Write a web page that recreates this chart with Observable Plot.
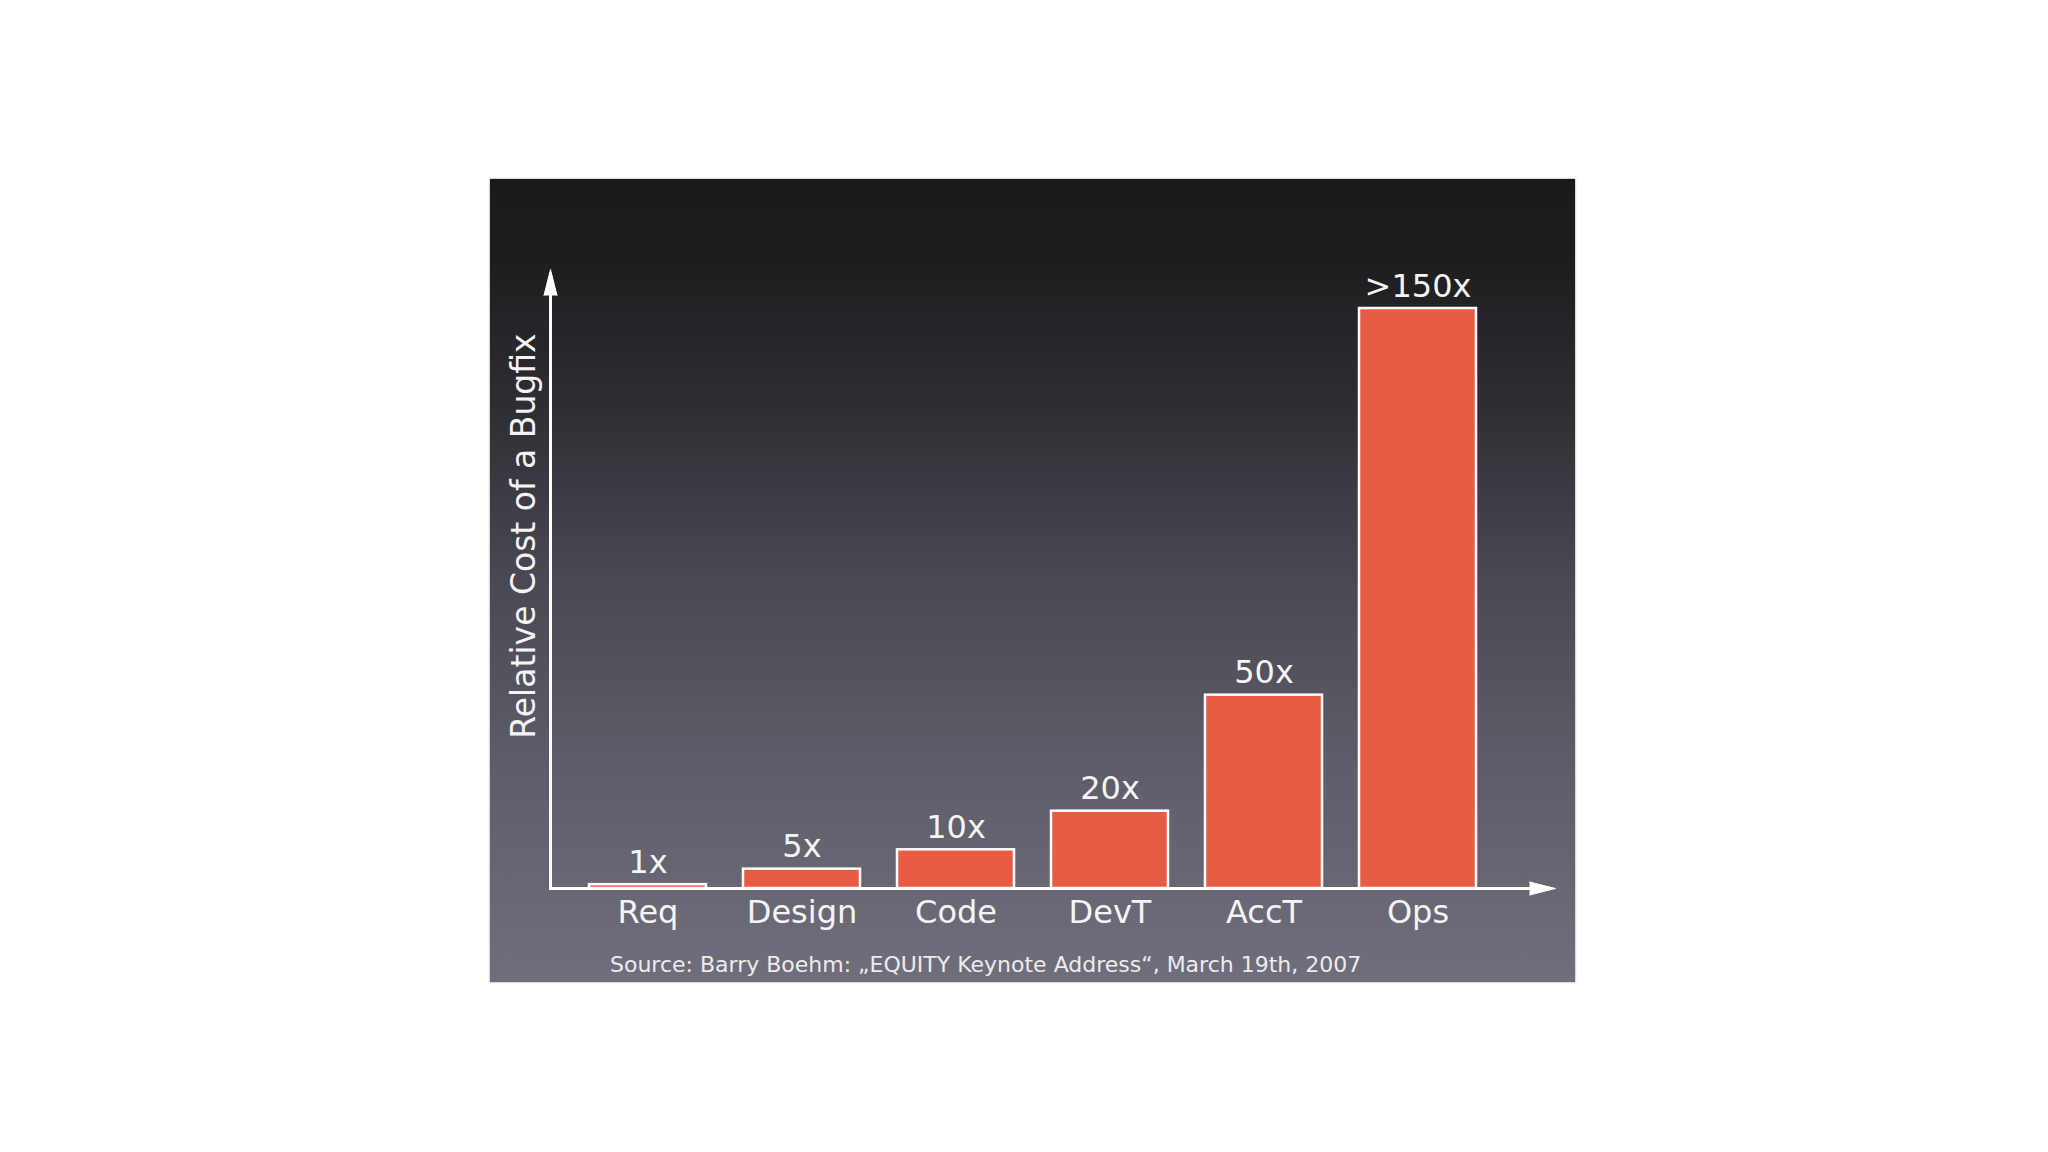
<!DOCTYPE html>
<html>
<head>
<meta charset="utf-8">
<script src="https://cdn.jsdelivr.net/npm/d3@7"></script>
<script src="https://cdn.jsdelivr.net/npm/@observablehq/plot@0.6"></script>
<style>
  html, body { margin: 0; padding: 0; background: #ffffff; width: 2048px; height: 1152px; overflow: hidden; }
  #panel {
    position: absolute; left: 490px; top: 179px; width: 1085px; height: 803px;
    background: linear-gradient(to bottom, #1a1a1b 0%, #1d1d1f 10%, #2e2d33 28%, #4a4852 50%, #5f5e6a 75%, #706e7c 100%);
    box-shadow: 0 0 2px rgba(0,0,0,0.45);
    font-family: "DejaVu Sans", sans-serif;
  }
  #chart svg { display: block; }
  #caption {
    position: absolute; left: 120px; top: 772px; font-size: 22px; line-height: 28px;
    color: #ececec; white-space: nowrap; font-family: "DejaVu Sans", sans-serif;
  }
</style>
</head>
<body>
<div id="panel">
  <div id="chart"></div>
  <div id="caption"></div>
</div>
<script>
const phases = ["Req", "Design", "Code", "DevT", "AccT", "Ops"];
const costs = [1, 5, 10, 20, 50, 150];
const costLabels = ["1x", "5x", "10x", "20x", "50x", ">150x"];
const yTitle = "Relative Cost of a Bugfix";
const sourceText = "Source: Barry Boehm: \u201eEQUITY Keynote Address\u201c, March 19th, 2007";

const data = phases.map((p, i) => ({phase: p, cost: costs[i], label: costLabels[i]}));

const chart = Plot.plot({
  width: 1085,
  height: 770,
  marginLeft: 60,
  marginRight: 20,
  marginTop: 90,
  marginBottom: 61,
  style: {background: "transparent", color: "white", fontFamily: "DejaVu Sans, sans-serif"},
  x: {type: "band", domain: phases, range: [62, 1023], padding: 0.24, axis: null},
  y: {domain: [0, 150], range: [709, 129], axis: null},
  marks: [
    Plot.barY(data, {x: "phase", y: "cost", fill: "#e85c46", stroke: "white", strokeWidth: 2.5}),
    Plot.text(data, {x: "phase", y: "cost", text: "label", dy: -22, fontSize: 32, fill: "#f4f4f4", lineAnchor: "middle"}),
    Plot.axisX({tickSize: 0, tickPadding: 12, fontSize: 32, fill: "#f4f4f4", label: null}),
    Plot.ruleY([0], {stroke: "white", strokeWidth: 3, insetRight: 12}),
    Plot.frame({anchor: "left", stroke: "white", strokeWidth: 3, insetTop: 12}),
    Plot.vector([0], {frameAnchor: "top-left", length: 26, r: 6.5, rotate: 0, shape: "spike", anchor: "end", fill: "white", stroke: "white", strokeWidth: 1}),
    Plot.vector([0], {frameAnchor: "bottom-right", length: 26, r: 6.5, rotate: 90, shape: "spike", anchor: "end", fill: "white", stroke: "white", strokeWidth: 1}),
    Plot.text([yTitle], {frameAnchor: "left", text: d => d, rotate: -90, dx: -26, dy: -43, fontSize: 33, fill: "#f4f4f4", lineAnchor: "middle", textAnchor: "middle"})
  ]
});
document.getElementById("chart").appendChild(chart);
document.getElementById("caption").textContent = sourceText;
</script>
</body>
</html>
